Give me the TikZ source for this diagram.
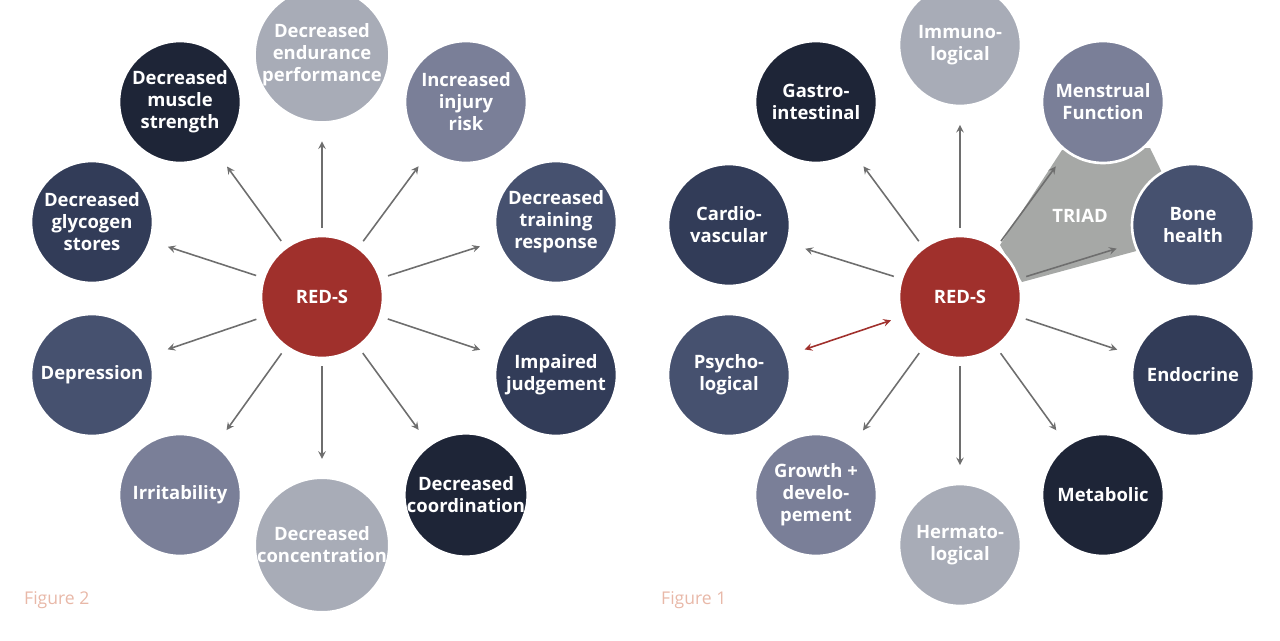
\documentclass[tikz,border=0pt]{standalone}
\usepackage{fontspec}
\setmainfont{Open Sans}
\definecolor{redS}{HTML}{A0302C}
\definecolor{toneA}{HTML}{A8ACB7}
\definecolor{toneB}{HTML}{7A7F98}
\definecolor{toneC}{HTML}{46516F}
\definecolor{toneD}{HTML}{323C58}
\definecolor{toneE}{HTML}{1E2537}
\definecolor{arrowgray}{HTML}{6E6E6E}
\definecolor{triadgray}{HTML}{A6A8A6}
\definecolor{figlabel}{HTML}{E8B8A8}
\tikzset{
  bubble/.style={circle, draw=white, line width=1.5pt, minimum size=2.44cm, inner sep=0pt,
    align=center, text=white, font=\bfseries\fontsize{10.5}{12.5}\selectfont},
  spoke/.style={->, >=stealth, arrowgray, line width=0.9pt, shorten >=10pt, shorten <=4pt},
}
\begin{document}
\begin{tikzpicture}[x=0.02cm, y=-0.02cm]
    \useasboundingbox (0,0) rectangle (1280,640);

    % Figure 2
    \node[bubble, fill=redS] (c2) at (322,297) {RED-S};
    \node[bubble, fill=toneA] (l1) at (322,55) {Decreased\\endurance\\performance};
    \node[bubble, fill=toneB] (l2) at (466,102) {Increased\\injury\\risk};
    \node[bubble, fill=toneC] (l3) at (556,222) {Decreased\\training\\response};
    \node[bubble, fill=toneD] (l4) at (556,375) {Impaired\\judgement};
    \node[bubble, fill=toneE] (l5) at (466,495) {Decreased\\coordination};
    \node[bubble, fill=toneA] (l6) at (322,545) {Decreased\\concentration};
    \node[bubble, fill=toneB] (l7) at (180,495) {Irritability};
    \node[bubble, fill=toneC] (l8) at (92,375) {Depression};
    \node[bubble, fill=toneD] (l9) at (92,222) {Decreased\\glycogen\\stores};
    \node[bubble, fill=toneE] (l10) at (180,102) {Decreased\\muscle\\strength};
    \foreach \n in {l1,l2,l3,l4,l5,l6,l7,l8,l9,l10}
        \draw[spoke] (c2) -- (\n);
    \node[anchor=west, text=figlabel, font=\fontsize{10}{12}\selectfont] (f2) at (18,600) {Figure 2};

    % Figure 1
    \fill[triadgray] (1000,245) -- (1062,150) -- (1150,148) -- (1168,185)
        -- (1140,250) -- (1022,282) -- cycle;
    \node[bubble, fill=redS] (c1) at (960,297) {RED-S};
    \node[bubble, fill=toneA] (r1) at (960,45) {Immuno-\\logical};
    \node[bubble, fill=toneB] (r2) at (1103,102) {Menstrual\\Function};
    \node[bubble, fill=toneC] (r3) at (1193,225) {Bone\\health};
    \node[bubble, fill=toneD] (r4) at (1193,375) {Endocrine};
    \node[bubble, fill=toneE] (r5) at (1103,495) {Metabolic};
    \node[bubble, fill=toneA] (r6) at (960,545) {Hermato-\\logical};
    \node[bubble, fill=toneB] (r7) at (816,495) {Growth +\\develo-\\pement};
    \node[bubble, fill=toneC] (r8) at (729,375) {Psycho-\\logical};
    \node[bubble, fill=toneD] (r9) at (729,225) {Cardio-\\vascular};
    \node[bubble, fill=toneE] (r10) at (816,102) {Gastro-\\intestinal};
    \foreach \n in {r1,r2,r3,r4,r5,r6,r7,r9,r10}
        \draw[spoke] (c1) -- (\n);
    \draw[spoke, <->, redS, shorten <=6pt] (c1) -- (r8);
    \node[text=white, font=\bfseries\fontsize{10.5}{12.5}\selectfont] (triad) at (1080,216) {TRIAD};
    \node[anchor=west, text=figlabel, font=\fontsize{10}{12}\selectfont] (f1) at (655,600) {Figure 1};
\end{tikzpicture}
\end{document}
